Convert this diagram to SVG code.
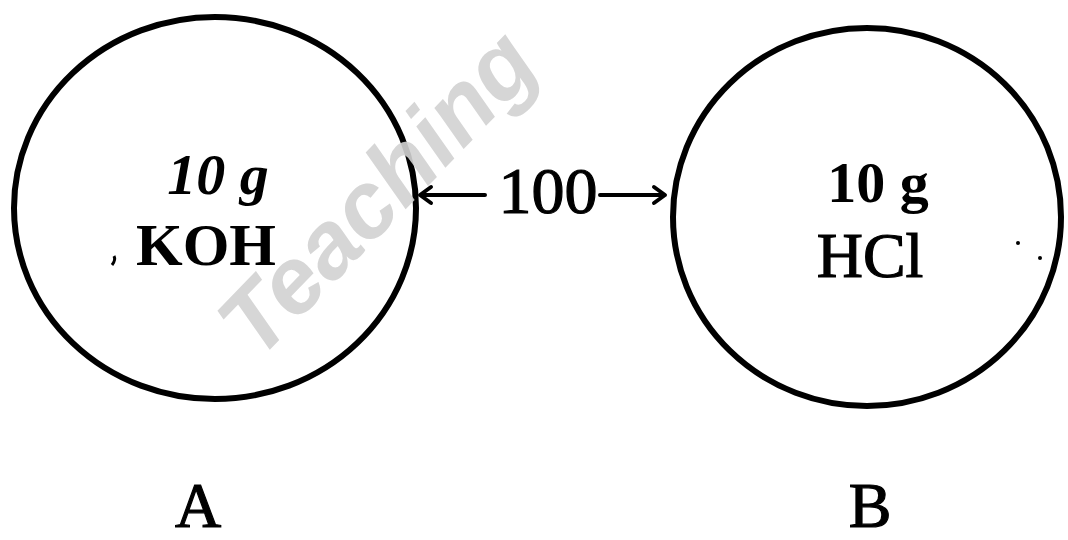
<svg xmlns="http://www.w3.org/2000/svg" width="1068" height="540" viewBox="0 0 1068 540">
<style>
.ring{fill:none;stroke:#000;stroke-width:6}
.t{font-family:"Liberation Serif","Times New Roman",serif;fill:#000;text-anchor:middle}
.b{font-weight:bold}
.s{stroke:#000;stroke-width:1.2}
.wm{font-family:"Liberation Sans",Arial,sans-serif;font-weight:bold;font-style:italic;fill:#d2d2d2}
.conn{stroke:#000;stroke-width:4;fill:none;stroke-linecap:round;stroke-linejoin:round}
</style>
<rect width="1068" height="540" fill="#fff"/>
<g id="nodeA">
<ellipse class="ring" cx="215" cy="208" rx="201" ry="191"/>
<text class="t b" x="218" y="194" font-size="58" font-style="italic">10 g</text>
<text class="t b" x="206" y="265" font-size="60">KOH</text>
<path d="M114 256 q2 4 -2 9" stroke="#000" stroke-width="3" fill="none"/>
</g>
<g id="nodeB">
<ellipse class="ring" cx="867" cy="217" rx="194" ry="189"/>
<text class="t b" x="878" y="202" font-size="58">10 g</text>
<text class="t s" x="870" y="277" font-size="64">HCl</text>
<circle cx="1018" cy="243" r="2" fill="#000"/>
<circle cx="1040" cy="258" r="2" fill="#000"/>
</g>
<g id="connectors">
<path class="conn" d="M485 195 H421 M431 187 L420 195 L431 203"/>
<path class="conn" d="M600 195 H664 M654 187 L665 195 L654 203"/>
<text class="t s" x="548" y="213" font-size="66">100</text>
</g>
<g id="labels">
<text class="t s" x="198" y="527" font-size="64">A</text>
<text class="t s" x="870" y="527" font-size="64">B</text>
</g>
<text class="wm" x="258" y="362" font-size="94" transform="rotate(-46 258 362)" opacity="0.9">Teaching</text>
</svg>
